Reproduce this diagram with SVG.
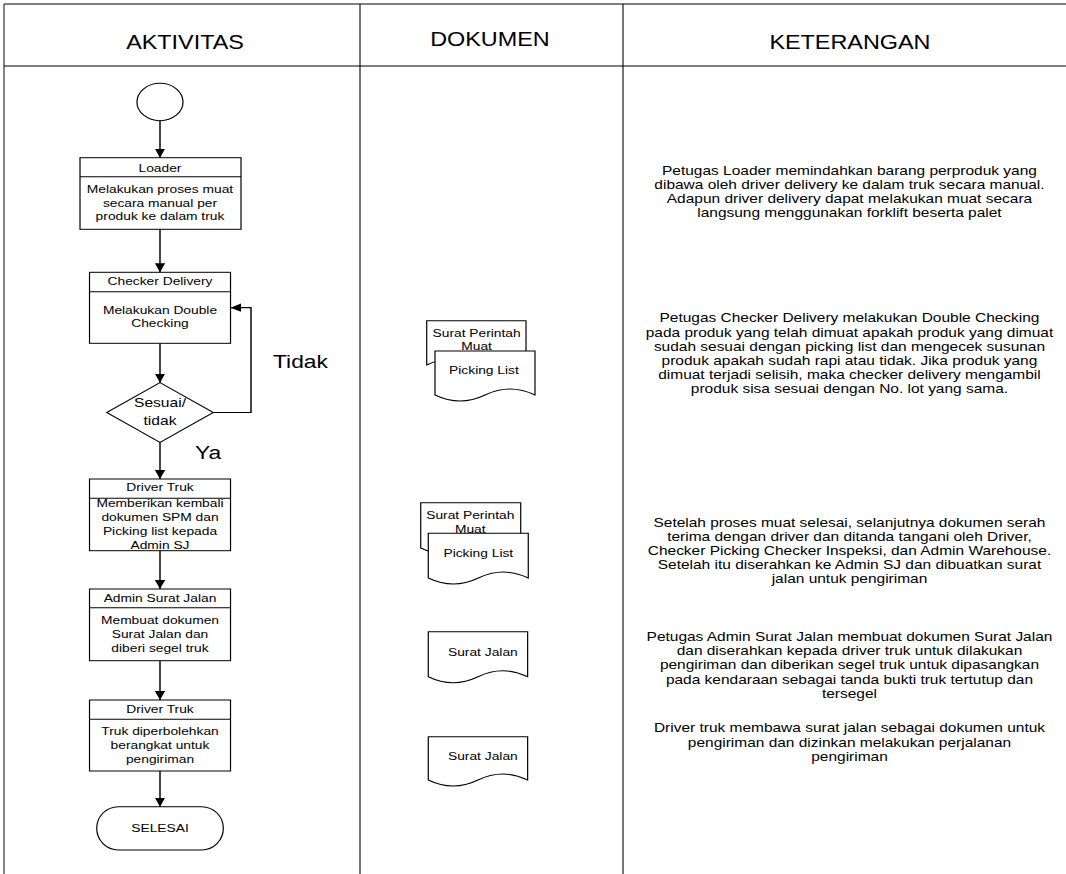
<svg xmlns="http://www.w3.org/2000/svg" width="1066" height="874" viewBox="0 0 1066 874">
<style>
.t{font-family:"Liberation Sans",Arial,sans-serif;fill:#000;text-anchor:middle}
.h{font-size:19.5px}
.a{font-size:11.5px}
.k{font-size:12.9px}
.big{font-size:19px}
.shape{fill:#fff;stroke:#000;stroke-width:1}
.ln{fill:none;stroke:#000;stroke-width:1}
.con{fill:none;stroke:#000;stroke-width:1.2}
</style>
<defs>
<marker id="ar" markerUnits="userSpaceOnUse" markerWidth="10" markerHeight="10" refX="9" refY="4.25" orient="auto">
<path d="M0,0 L9,4.25 L0,8.5 z" fill="#000"/>
</marker>
</defs>
<rect x="0" y="0" width="1066" height="874" fill="#fff"/>
<g transform="scale(1.2,1)">
<g id="table">
<line x1="3.33" y1="4" x2="888.33" y2="4" stroke="#7f7f7f" stroke-width="2"/>
<line x1="3.33" y1="4" x2="3.33" y2="874" stroke="#555" stroke-width="1.2"/>
<line x1="3.33" y1="66" x2="888.33" y2="66" stroke="#000" stroke-width="1"/>
<line x1="300" y1="4" x2="300" y2="874" stroke="#000" stroke-width="0.9"/>
<line x1="519.17" y1="4" x2="519.17" y2="874" stroke="#000" stroke-width="0.9"/>
<text class="t h" x="154.2" y="49">AKTIVITAS</text>
<text class="t h" x="408.3" y="46">DOKUMEN</text>
<text class="t h" x="708.3" y="49">KETERANGAN</text>
</g>
<g id="connectors">
<line class="con" x1="133.33" y1="120.7" x2="133.33" y2="157.7" marker-end="url(#ar)"/>
<line class="con" x1="133.33" y1="229.3" x2="133.33" y2="272.3" marker-end="url(#ar)"/>
<line class="con" x1="133.33" y1="343.3" x2="133.33" y2="382.7" marker-end="url(#ar)"/>
<line class="con" x1="133.33" y1="442.3" x2="133.33" y2="479" marker-end="url(#ar)"/>
<line class="con" x1="133.33" y1="550.7" x2="133.33" y2="589" marker-end="url(#ar)"/>
<line class="con" x1="133.33" y1="660.7" x2="133.33" y2="700" marker-end="url(#ar)"/>
<line class="con" x1="133.33" y1="771" x2="133.33" y2="806.7" marker-end="url(#ar)"/>
<polyline class="con" points="177.8,412.5 209.17,412.5 209.17,307.7 192.1,307.7" marker-end="url(#ar)"/>
<text class="t big" x="250.4" y="368.5">Tidak</text>
<text class="t big" x="162.5" y="459.5" style="text-anchor:start">Ya</text>
</g>
<g id="start">
<ellipse class="shape" cx="133.33" cy="102" rx="19.2" ry="18.7"/>
</g>
<g id="loader">
<rect class="shape" x="66.67" y="157.7" width="134.17" height="71.6"/>
<line class="ln" x1="66.67" y1="176.7" x2="200.83" y2="176.7"/>
<text class="t a" x="133.33" y="171.7">Loader</text>
<text class="t a" x="133.33" y="193.5">Melakukan proses muat</text>
<text class="t a" x="133.33" y="207">secara manual per</text>
<text class="t a" x="133.33" y="220.5">produk ke dalam truk</text>
</g>
<g id="checker">
<rect class="shape" x="74.6" y="272.3" width="117.5" height="71"/>
<line class="ln" x1="74.6" y1="291.7" x2="192.1" y2="291.7"/>
<text class="t a" x="133.33" y="285">Checker Delivery</text>
<text class="t a" x="133.33" y="314">Melakukan Double</text>
<text class="t a" x="133.33" y="327.5">Checking</text>
</g>
<g id="decision">
<polygon class="shape" points="133.33,382.7 177.8,412.5 133.33,442.3 88.9,412.5"/>
<text class="t" style="font-size:13px" x="133.33" y="407.5">Sesuai/</text>
<text class="t" style="font-size:13px" x="133.33" y="425">tidak</text>
</g>
<g id="driver1">
<rect class="shape" x="74.6" y="479" width="117.5" height="71.7"/>
<line class="ln" x1="74.6" y1="498.3" x2="192.1" y2="498.3"/>
<text class="t a" x="133.33" y="491.3">Driver Truk</text>
<text class="t a" x="133.33" y="507.3">Memberikan kembali</text>
<text class="t a" x="133.33" y="521.3">dokumen SPM dan</text>
<text class="t a" x="133.33" y="535.5">Picking list kepada</text>
<text class="t a" x="133.33" y="549">Admin SJ</text>
</g>
<g id="admin">
<rect class="shape" x="74.6" y="589" width="117.5" height="71.7"/>
<line class="ln" x1="74.6" y1="607.7" x2="192.1" y2="607.7"/>
<text class="t a" x="133.33" y="601.7">Admin Surat Jalan</text>
<text class="t a" x="133.33" y="624">Membuat dokumen</text>
<text class="t a" x="133.33" y="638">Surat Jalan dan</text>
<text class="t a" x="133.33" y="651.7">diberi segel truk</text>
</g>
<g id="driver2">
<rect class="shape" x="74.6" y="700" width="117.5" height="71"/>
<line class="ln" x1="74.6" y1="719.3" x2="192.1" y2="719.3"/>
<text class="t a" x="133.33" y="713">Driver Truk</text>
<text class="t a" x="133.33" y="735">Truk diperbolehkan</text>
<text class="t a" x="133.33" y="749">berangkat untuk</text>
<text class="t a" x="133.33" y="763">pengiriman</text>
</g>
<g id="end">
<rect class="shape" x="80.6" y="806.7" width="105.5" height="43.3" rx="18" ry="21.65"/>
<text class="t a" x="133.33" y="832">SELESAI</text>
</g>
<g id="doc-spm1">
<path class="shape" d="M355.6,320.7 H438.35 V365 Q417.66,377 397,365 T355.6,365 Z"/>
<text class="t a" x="397.2" y="336.7">Surat Perintah</text>
<text class="t a" x="397.2" y="350">Muat</text>
</g>
<g id="doc-pl1">
<path class="shape" d="M362.5,351 H445.83 V395 Q425,383 404.2,395 T362.5,395 Z"/>
<text class="t a" x="403.3" y="374">Picking List</text>
</g>
<g id="doc-spm2">
<path class="shape" d="M350.6,502.7 H433.93 V548 Q413.1,536 392.3,548 T350.6,548 Z"/>
<text class="t a" x="391.9" y="519">Surat Perintah</text>
<text class="t a" x="391.9" y="533.3">Muat</text>
</g>
<g id="doc-pl2">
<path class="shape" d="M356.9,533.3 H440.23 V578 Q419.4,566 398.6,578 T356.9,578 Z"/>
<text class="t a" x="398.6" y="556.7">Picking List</text>
</g>
<g id="doc-sj1">
<path class="shape" d="M356.9,631.7 H439.7 V676.7 Q419,664.7 398.3,676.7 T356.9,676.7 Z"/>
<text class="t a" x="402.4" y="655.7">Surat Jalan</text>
</g>
<g id="doc-sj2">
<path class="shape" d="M356.9,736.7 H439.7 V780 Q419,768 398.3,780 T356.9,780 Z"/>
<text class="t a" x="402.4" y="760">Surat Jalan</text>
</g>
<g id="ket1">
<text class="t k" x="707.9" y="175">Petugas Loader memindahkan barang perproduk yang</text>
<text class="t k" x="707.9" y="189">dibawa oleh driver delivery ke dalam truk secara manual.</text>
<text class="t k" x="707.9" y="203">Adapun driver delivery dapat melakukan muat secara</text>
<text class="t k" x="707.9" y="217">langsung menggunakan forklift beserta palet</text>
</g>
<g id="ket2">
<text class="t k" x="707.9" y="322.5">Petugas Checker Delivery melakukan Double Checking</text>
<text class="t k" x="707.9" y="336.7">pada produk yang telah dimuat apakah produk yang dimuat</text>
<text class="t k" x="707.9" y="350.9">sudah sesuai dengan picking list dan mengecek susunan</text>
<text class="t k" x="707.9" y="365.1">produk apakah sudah rapi atau tidak. Jika produk yang</text>
<text class="t k" x="707.9" y="379.3">dimuat terjadi selisih, maka checker delivery mengambil</text>
<text class="t k" x="707.9" y="393.5">produk sisa sesuai dengan No. lot yang sama.</text>
</g>
<g id="ket3">
<text class="t k" x="707.9" y="527.5">Setelah proses muat selesai, selanjutnya dokumen serah</text>
<text class="t k" x="707.9" y="541.5">terima dengan driver dan ditanda tangani oleh Driver,</text>
<text class="t k" x="707.9" y="555.5">Checker Picking Checker Inspeksi, dan Admin Warehouse.</text>
<text class="t k" x="707.9" y="569.5">Setelah itu diserahkan ke Admin SJ dan dibuatkan surat</text>
<text class="t k" x="707.9" y="583.5">jalan untuk pengiriman</text>
</g>
<g id="ket4">
<text class="t k" x="707.9" y="641">Petugas Admin Surat Jalan membuat dokumen Surat Jalan</text>
<text class="t k" x="707.9" y="655.2">dan diserahkan kepada driver truk untuk dilakukan</text>
<text class="t k" x="707.9" y="669.4">pengiriman dan diberikan segel truk untuk dipasangkan</text>
<text class="t k" x="707.9" y="683.6">pada kendaraan sebagai tanda bukti truk tertutup dan</text>
<text class="t k" x="707.9" y="697.8">tersegel</text>
</g>
<g id="ket5">
<text class="t k" x="707.9" y="732.5">Driver truk membawa surat jalan sebagai dokumen untuk</text>
<text class="t k" x="707.9" y="746.7">pengiriman dan dizinkan melakukan perjalanan</text>
<text class="t k" x="707.9" y="760.9">pengiriman</text>
</g>
</g>
</svg>
